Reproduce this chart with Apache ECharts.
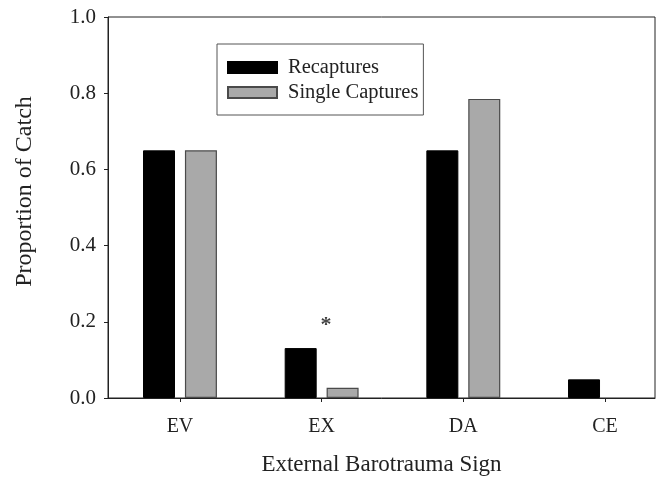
<!DOCTYPE html>
<html>
<head>
<meta charset="utf-8">
<script src="https://cdn.jsdelivr.net/npm/echarts@6/dist/echarts.min.js"></script>
<style>html,body{margin:0;padding:0;background:#fff;}#c{width:659px;height:481px;}</style>
</head>
<body>
<div id="c"></div>
<script>
const categories = ['EV', 'EX', 'DA', 'CE'];
const categoryPositions = [1, 2, 3, 4];
const recaptures = [0.65, 0.131, 0.65, 0.049];
const singleCaptures = [0.65, 0.027, 0.785, 0];
const yTicks = [0, 0.2, 0.4, 0.6, 0.8, 1.0];
const significance = [{ category: 'EX', value: 0.19, text: '*' }];

const FONT = '"Liberation Serif", "Times New Roman", serif';
const chart = echarts.init(document.getElementById('c'), null, { renderer: 'canvas' });

const pair = (vals) => categoryPositions.map((p, i) => (
  vals[i] === 0 ? { value: [p, vals[i]], itemStyle: { borderWidth: 0, opacity: 0 } } : { value: [p, vals[i]] }
));
const sigData = significance.map(s => ({
  value: [categoryPositions[categories.indexOf(s.category)] + 0.03, s.value],
  label: { formatter: s.text }
}));

chart.setOption({
  animation: false,
  backgroundColor: '#fff',
  textStyle: { fontFamily: FONT },
  grid: { left: 108, right: 4, top: 17, bottom: 82, show: true, borderColor: '#222', borderWidth: 1 },
  legend: {
    left: 217, top: 44,
    orient: 'vertical',
    icon: 'rect',
    itemWidth: 49, itemHeight: 11, itemGap: 4,
    padding: [13, 5, 12, 10],
    borderColor: '#555', borderWidth: 1,
    textStyle: { fontFamily: FONT, fontSize: 20.5, lineHeight: 21, color: '#222', padding: [0, 0, 0, 6] },
    data: ['Recaptures', 'Single Captures']
  },
  xAxis: {
    type: 'value', min: 0.492, max: 4.353,
    name: 'External Barotrauma Sign', nameLocation: 'middle', nameGap: 55,
    nameTextStyle: { fontFamily: FONT, fontSize: 23, color: '#222' },
    axisLine: { lineStyle: { color: '#222', width: 1 } },
    axisTick: { show: true, length: 4, customValues: categoryPositions, lineStyle: { color: '#222' } },
    axisLabel: {
      customValues: categoryPositions, margin: 19,
      fontFamily: FONT, fontSize: 20, color: '#222',
      formatter: (v) => categories[categoryPositions.indexOf(Math.round(v))] || ''
    },
    splitLine: { show: false }
  },
  yAxis: {
    type: 'value', min: 0, max: 1, interval: 0.2,
    name: 'Proportion of Catch', nameLocation: 'middle', nameGap: 71,
    nameTextStyle: { fontFamily: FONT, fontSize: 24, color: '#222', padding: [0, 0, 0, 32] },
    axisLine: { show: true, lineStyle: { color: '#222', width: 1 } },
    axisTick: { show: true, length: 4, lineStyle: { color: '#222' } },
    axisLabel: { margin: 12, fontFamily: FONT, fontSize: 21, color: '#222', formatter: (v) => v.toFixed(1) },
    splitLine: { show: false }
  },
  series: [
    {
      name: 'Recaptures', type: 'bar', data: pair(recaptures),
      barWidth: 32, barGap: '31%',
      itemStyle: { color: '#000', borderColor: '#000', borderWidth: 1 }
    },
    {
      name: 'Single Captures', type: 'bar', data: pair(singleCaptures),
      barWidth: 32, barGap: '31%',
      itemStyle: { color: '#a9a9a9', borderColor: '#4a4a4a', borderWidth: 1.2 }
    },
    {
      name: 'sig', type: 'scatter', data: sigData, symbolSize: 0, silent: true,
      label: { show: true, position: 'inside', fontFamily: FONT, fontSize: 22, fontWeight: 'bold', color: '#111' }
    }
  ]
});
</script>
</body>
</html>
